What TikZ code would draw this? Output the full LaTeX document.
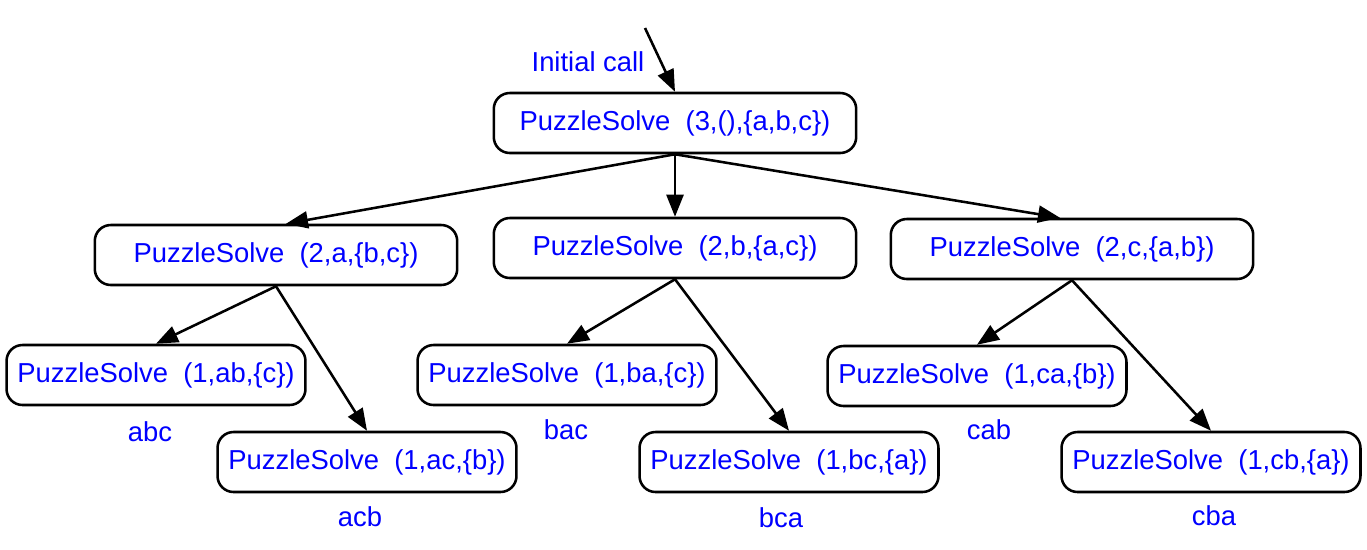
\documentclass[tikz,border=0pt]{standalone}
\usepackage{fontspec}
\setmainfont{Liberation Sans}
\usetikzlibrary{arrows.meta}

\begin{document}
\begin{tikzpicture}[x=0.02cm,y=-0.02cm,->,>={Triangle[length=0.44cm,width=0.34cm]},
		line width=1.45pt,
		call node/.style={draw,rounded corners=0.32cm,minimum height=1.2cm,font=\fontsize{15.6}{18}\selectfont,text=blue,inner sep=0pt},
		big node/.style={call node,minimum width=7.25cm},
		leaf node/.style={call node,minimum width=5.98cm},
		perm/.style={font=\fontsize{15.6}{18}\selectfont,text=blue}]
	\useasboundingbox (0,0) rectangle (1367,549);

	\node[big node] (root) at (675,123) {PuzzleSolve\ \ (3,(),\{a,b,c\})};
	\node[perm] (init) at (588,62) {Initial call};
	\coordinate (start) at (645,28);

	\node[big node] (a) at (276,255) {PuzzleSolve\ \ (2,a,\{b,c\})};
	\node[big node] (b) at (675,248) {PuzzleSolve\ \ (2,b,\{a,c\})};
	\node[big node] (c) at (1072,249) {PuzzleSolve\ \ (2,c,\{a,b\})};

	\node[leaf node] (ab) at (156,375) {PuzzleSolve\ \ (1,ab,\{c\})};
	\node[leaf node] (ac) at (367,462) {PuzzleSolve\ \ (1,ac,\{b\})};
	\node[leaf node] (ba) at (567,375) {PuzzleSolve\ \ (1,ba,\{c\})};
	\node[leaf node] (bc) at (789,462) {PuzzleSolve\ \ (1,bc,\{a\})};
	\node[leaf node] (ca) at (977,376) {PuzzleSolve\ \ (1,ca,\{b\})};
	\node[leaf node] (cb) at (1211,462) {PuzzleSolve\ \ (1,cb,\{a\})};

	\node[perm] (abc) at (150,432) {abc};
	\node[perm] (acb) at (360,517) {acb};
	\node[perm] (bac) at (566,430) {bac};
	\node[perm] (bca) at (781,518) {bca};
	\node[perm] (cab) at (989,430) {cab};
	\node[perm] (cba) at (1214,516) {cba};

	\draw (start) -- (root.north);
	\draw (root.south) -- ([xshift=0.2cm]a.north);
	\draw (root.south) -- (b.north);
	\draw (root.south) -- ([xshift=-0.24cm]c.north);
	\draw (a.south) -- (ab.north);
	\draw (a.south) -- (ac.north);
	\draw (b.south) -- (ba.north);
	\draw (b.south) -- (bc.north);
	\draw (c.south) -- (ca.north);
	\draw (c.south) -- (cb.north);
\end{tikzpicture}
\end{document}
